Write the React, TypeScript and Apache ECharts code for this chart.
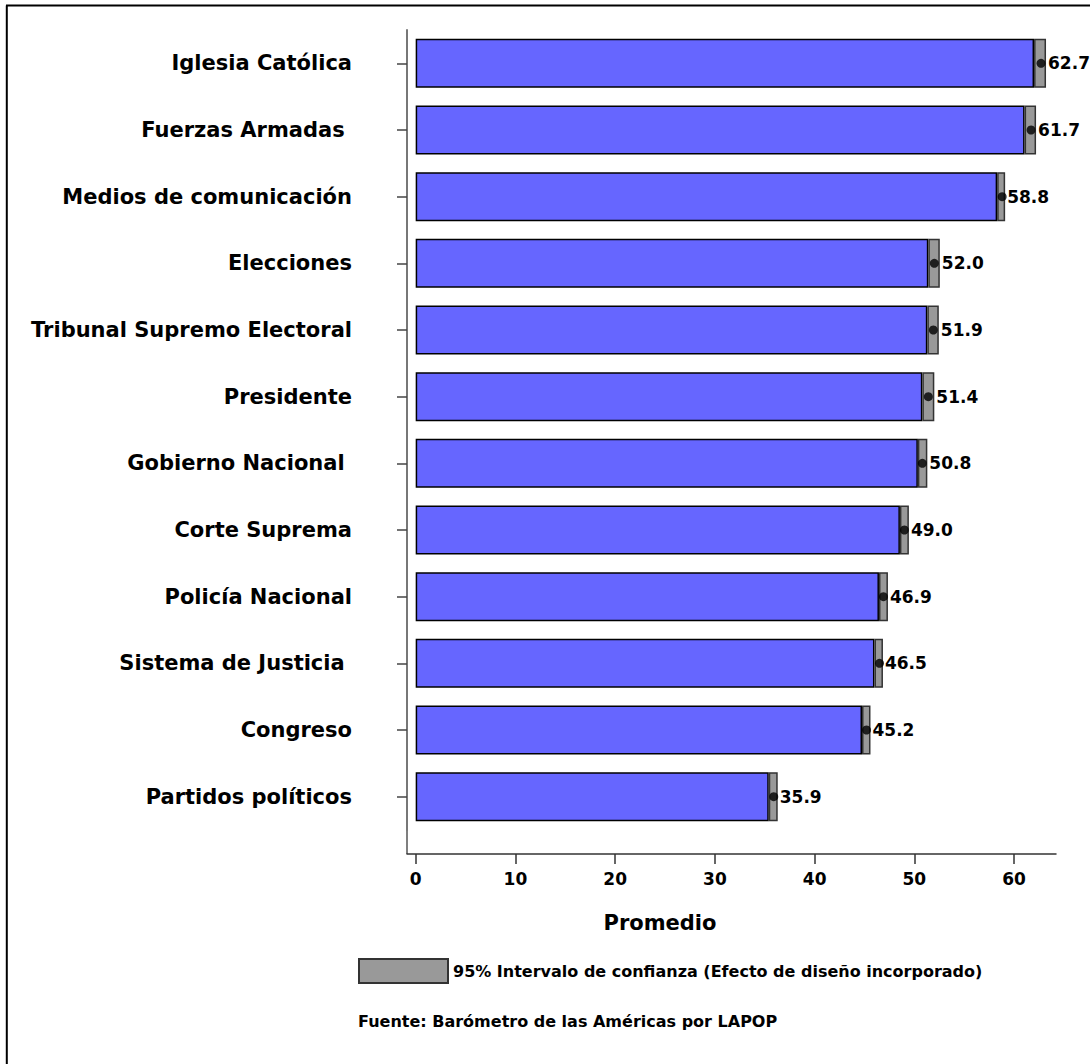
import React, { useEffect, useRef } from "react";
import * as echarts from "echarts";

const categories = [
  "Iglesia Católica",
  "Fuerzas Armadas ",
  "Medios de comunicación",
  "Elecciones",
  "Tribunal Supremo Electoral",
  "Presidente",
  "Gobierno Nacional ",
  "Corte Suprema",
  "Policía Nacional",
  "Sistema de Justicia ",
  "Congreso",
  "Partidos políticos",
];
const means = [62.7, 61.7, 58.8, 52.0, 51.9, 51.4, 50.8, 49.0, 46.9, 46.5, 45.2, 35.9];
const lowerCI = [62.0, 61.05, 58.3, 51.4, 51.3, 50.8, 50.35, 48.55, 46.45, 46.0, 44.75, 35.4];
const upperCI = [63.2, 62.2, 59.1, 52.55, 52.45, 52.0, 51.3, 49.45, 47.35, 46.85, 45.6, 36.3];
const xTicks = [0, 10, 20, 30, 40, 50, 60];

const legendName = "95% Intervalo de confianza (Efecto de diseño incorporado)";
const FONT = "DejaVu Sans";

export default function App() {
  const ref = useRef<HTMLDivElement>(null);
  useEffect(() => {
    document.body.style.margin = "0";
    const chart = echarts.init(ref.current!, null, { renderer: "svg" });
    const ciWidth = upperCI.map((u, i) => +(u - lowerCI[i]).toFixed(3));
    chart.setOption({
      animation: false,
      backgroundColor: "#ffffff",
      grid: { left: 407, right: 34, top: 30, bottom: 234, containLabel: false },
      legend: {
        data: [legendName],
        left: 358,
        top: 958,
        padding: 0,
        itemWidth: 89,
        itemHeight: 24,
        itemGap: 5,
        icon: "rect",
        selectedMode: false,
        textStyle: { fontFamily: FONT, fontWeight: "bold", fontSize: 16, color: "#000" },
      },
      xAxis: {
        type: "value",
        min: -0.87,
        max: 64.2,
        offset: 24,
        axisLine: { show: true, onZero: false, lineStyle: { color: "#333", width: 1.5 } },
        axisTick: { show: true, length: 10, customValues: xTicks, lineStyle: { color: "#333", width: 1.5 } },
        axisLabel: {
          customValues: xTicks,
          fontFamily: FONT,
          fontWeight: "bold",
          fontSize: 17,
          color: "#000",
          margin: 16,
        },
        splitLine: { show: false },
      },
      yAxis: {
        type: "category",
        inverse: true,
        data: categories,
        axisLine: { show: true, onZero: false, lineStyle: { color: "#777", width: 2 } },
        axisTick: { show: true, alignWithLabel: true, length: 10, lineStyle: { color: "#444", width: 1.5 } },
        axisLabel: {
          fontFamily: FONT,
          fontWeight: "bold",
          fontSize: 21,
          color: "#000",
          margin: 55,
        },
        splitLine: { show: false },
      },
      series: [
        {
          type: "bar",
          name: "base",
          stack: "ci",
          barWidth: 49,
          data: lowerCI,
          itemStyle: { color: "#6666FF", borderColor: "#000", borderWidth: 1.5 },
          silent: true,
        },
        {
          type: "bar",
          name: legendName,
          stack: "ci",
          barWidth: 49,
          data: ciWidth,
          itemStyle: { color: "#999999", borderColor: "#333", borderWidth: 1.5 },
          label: {
            show: true,
            position: "right",
            distance: 2,
            formatter: (p: any) => means[p.dataIndex].toFixed(1),
            fontFamily: FONT,
            fontWeight: "bold",
            fontSize: 17,
            color: "#000",
          },
          silent: true,
        },
        {
          type: "scatter",
          name: "mean",
          data: means.map((m, i) => [m, categories[i]]),
          symbol: "circle",
          symbolSize: 9,
          itemStyle: { color: "#000" },
          silent: true,
          z: 5,
        },
      ],
      graphic: [
        { type: "line", shape: { x1: 407, y1: 830, x2: 407, y2: 854 }, style: { stroke: "#555", lineWidth: 1.5 } },
        { type: "line", shape: { x1: 6.8, y1: 5.5, x2: 6.8, y2: 1064 }, style: { stroke: "#000", lineWidth: 2 } },
        { type: "line", shape: { x1: 6, y1: 5.5, x2: 1090, y2: 5.5 }, style: { stroke: "#000", lineWidth: 2 } },
        {
          type: "text",
          x: 660,
          y: 923,
          style: {
            text: "Promedio",
            fontFamily: FONT,
            fontWeight: "bold",
            fontSize: 21,
            fill: "#000",
            align: "center",
            verticalAlign: "middle",
          },
        },
        {
          type: "text",
          x: 358,
          y: 1021,
          style: {
            text: "Fuente: Barómetro de las Américas por LAPOP",
            fontFamily: FONT,
            fontWeight: "bold",
            fontSize: 16,
            fill: "#000",
            align: "left",
            verticalAlign: "middle",
          },
        },
      ],
    });
    return () => chart.dispose();
  }, []);
  return <div ref={ref} style={{ position: "absolute", left: 0, top: 0, width: 1090, height: 1064 }} />;
}
